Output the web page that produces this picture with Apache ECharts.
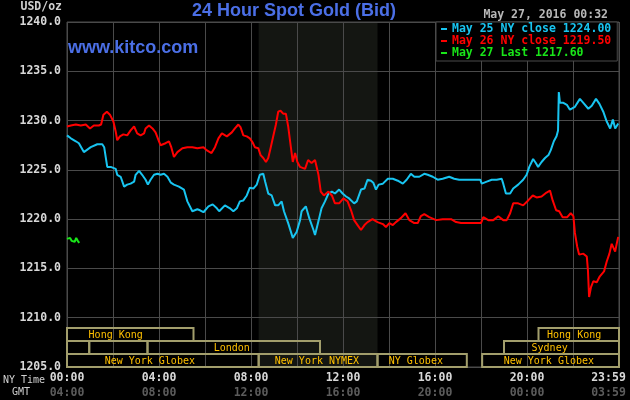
<!DOCTYPE html>
<html>
<head>
<meta charset="utf-8">
<script src="https://cdn.jsdelivr.net/npm/echarts@6/dist/echarts.min.js"></script>
<style>html,body{margin:0;padding:0;background:#000;}#c{width:630px;height:400px;}</style>
</head>
<body>
<div id="c"></div>
<script>
// ---- data (minutes after 00:00 NY time, USD/oz) ----
const may25 = [[0,1228.5],[10,1228.2],[23,1227.9],[31,1227.7],[44,1226.8],[49,1226.9],[62,1227.3],[79,1227.6],[92,1227.6],[97,1227.3],[101,1226.3],[105,1225.3],[114,1225.3],[127,1225.1],[131,1224.5],[140,1224.3],[149,1223.3],[157,1223.5],[166,1223.6],[175,1223.8],[179,1224.5],[188,1224.9],[196,1224.5],[205,1224.0],[211,1223.5],[218,1224.0],[227,1224.5],[236,1224.6],[244,1224.5],[253,1224.6],[262,1224.3],[271,1223.7],[279,1223.5],[292,1223.3],[305,1223.0],[314,1221.8],[327,1220.8],[340,1221.0],[347,1220.9],[356,1220.7],[369,1221.3],[380,1221.5],[391,1221.1],[397,1220.8],[412,1221.4],[425,1221.1],[434,1220.8],[443,1221.1],[451,1221.8],[460,1221.9],[469,1222.4],[477,1223.2],[486,1223.1],[495,1223.5],[503,1224.5],[512,1224.6],[517,1223.8],[525,1222.6],[534,1222.4],[543,1221.4],[551,1221.4],[560,1221.8],[566,1220.8],[577,1219.6],[589,1218.1],[599,1218.7],[608,1219.9],[612,1220.8],[623,1221.3],[632,1220.1],[643,1218.9],[647,1218.4],[656,1219.8],[664,1221.1],[673,1221.8],[682,1222.6],[691,1222.8],[699,1222.6],[710,1223.0],[719,1222.6],[728,1222.3],[736,1222.1],[749,1221.6],[756,1221.8],[767,1223.0],[776,1223.1],[784,1224.0],[793,1223.9],[799,1223.7],[806,1223.0],[813,1223.5],[824,1223.6],[837,1224.1],[850,1224.1],[863,1223.9],[876,1223.6],[886,1224.0],[897,1224.6],[906,1224.3],[919,1224.3],[932,1224.6],[941,1224.5],[954,1224.3],[967,1224.0],[980,1224.1],[997,1224.3],[1010,1224.1],[1023,1224.0],[1049,1224.0],[1078,1224.0],[1082,1223.6],[1095,1223.8],[1108,1224.0],[1121,1224.0],[1134,1224.1],[1138,1223.6],[1145,1222.6],[1156,1222.6],[1164,1223.1],[1177,1223.5],[1190,1224.0],[1199,1224.5],[1206,1225.3],[1216,1226.1],[1223,1225.7],[1229,1225.3],[1238,1225.8],[1247,1226.2],[1256,1226.5],[1262,1227.0],[1270,1227.9],[1277,1228.4],[1281,1229.0],[1283,1232.9],[1286,1231.8],[1295,1231.8],[1304,1231.6],[1312,1231.1],[1325,1231.4],[1338,1232.2],[1347,1231.8],[1360,1231.2],[1369,1231.5],[1380,1232.2],[1389,1231.7],[1399,1230.9],[1408,1229.9],[1417,1229.2],[1424,1230.1],[1430,1229.2],[1438,1229.7]];

const may26 = [[0,1229.4],[10,1229.5],[23,1229.6],[36,1229.5],[49,1229.6],[60,1229.2],[70,1229.5],[83,1229.5],[89,1229.6],[95,1230.6],[104,1230.9],[112,1230.6],[121,1229.9],[127,1228.9],[131,1228.0],[138,1228.4],[147,1228.6],[157,1228.5],[166,1229.0],[175,1229.4],[183,1228.7],[192,1228.5],[201,1228.7],[205,1229.2],[214,1229.5],[223,1229.2],[231,1228.8],[240,1227.9],[244,1227.5],[257,1227.7],[266,1227.9],[272,1227.3],[279,1226.3],[288,1226.8],[301,1227.2],[314,1227.3],[327,1227.3],[340,1227.2],[356,1227.3],[364,1227.0],[377,1226.7],[386,1227.3],[395,1228.2],[404,1228.7],[417,1228.4],[430,1228.8],[438,1229.2],[447,1229.6],[453,1229.3],[460,1228.5],[469,1228.4],[477,1228.2],[484,1227.8],[490,1227.3],[499,1227.2],[505,1226.5],[512,1226.2],[519,1225.8],[525,1226.2],[531,1227.2],[538,1228.4],[545,1229.6],[551,1230.9],[557,1231.0],[564,1230.7],[571,1230.7],[577,1229.4],[584,1227.3],[589,1225.8],[595,1226.7],[601,1225.8],[608,1225.3],[621,1225.1],[629,1226.0],[638,1225.7],[647,1226.0],[656,1224.5],[662,1222.8],[670,1222.4],[682,1222.8],[691,1222.4],[699,1221.6],[710,1221.6],[721,1222.1],[732,1221.8],[741,1220.9],[749,1219.9],[758,1219.4],[767,1218.9],[776,1219.4],[784,1219.7],[797,1220.0],[810,1219.7],[824,1219.5],[832,1219.2],[841,1219.6],[850,1219.4],[858,1219.7],[871,1220.1],[883,1220.6],[893,1219.9],[906,1219.6],[915,1219.6],[923,1220.3],[932,1220.5],[945,1220.2],[963,1219.9],[980,1220.0],[1002,1220.0],[1015,1219.7],[1028,1219.6],[1080,1219.6],[1086,1220.2],[1099,1219.9],[1112,1219.9],[1125,1220.3],[1138,1219.9],[1147,1219.9],[1156,1220.6],[1164,1221.6],[1177,1221.6],[1190,1221.4],[1203,1221.9],[1215,1222.4],[1225,1222.2],[1238,1222.3],[1251,1222.7],[1260,1222.9],[1267,1221.9],[1276,1220.9],[1284,1220.8],[1293,1220.2],[1305,1220.2],[1314,1220.6],[1321,1220.3],[1325,1218.6],[1331,1217.2],[1336,1216.4],[1347,1216.5],[1356,1216.2],[1359,1214.8],[1362,1212.1],[1367,1213.1],[1373,1213.7],[1382,1213.6],[1390,1214.2],[1401,1214.7],[1408,1215.7],[1415,1216.5],[1421,1217.5],[1425,1217.4],[1430,1216.7],[1434,1217.5],[1438,1218.2]];

const may27 = [[0,1218.0],[4,1217.8],[8,1218.1],[12,1217.8],[16,1218.0],[20,1217.7],[24,1218.1],[28,1217.8],[32,1217.6]];

const legendNames = ['May 25 NY close', 'May 26 NY close', 'May 27 Last'];
const legendValues = [1224.00, 1219.50, 1217.60];
const seriesColors = ['#18c4f0', '#ff0000', '#19e619'];

const nyTickLabels = ['00:00','04:00','08:00','12:00','16:00','20:00','23:59'];
const gmtTickLabels = ['04:00','08:00','12:00','16:00','20:00','00:00','03:59'];

const yMin = 1205, yMax = 1240, yStep = 5;

// market sessions (minutes), rows from top
const sessionNames = ['Hong Kong','Hong Kong','','','London','Sydney','New York Globex','New York NYMEX','NY Globex','New York Globex'];
const sessionRow   = [0,0,1,1,1,1,2,2,2,2];
const sessionStart = [0,1230,0,58,210,1140,0,500,810,1083];
const sessionEnd   = [330,1440,58,210,660,1440,500,810,1043,1440];
const sessionLabelAt = [127,1323,29,134,430,1259,216,652,910,1257];

const nymexHours = [500, 810];

// ---- chart ----
const mono = "'DejaVu Sans Mono', monospace";
const chart = echarts.init(document.getElementById('c'));
const names = legendNames.map((n, i) => n + ' ' + legendValues[i].toFixed(2));

const sessionData = sessionNames.map((n, i) => [sessionStart[i], sessionEnd[i], sessionRow[i], sessionLabelAt[i]]);

function xLabel(v) {
  if (v === 1440) return '{nyE|' + nyTickLabels[6] + '}\n{gmtE|' + gmtTickLabels[6] + '}';
  if (v % 240 === 0) {
    const i = v / 240;
    return '{ny|' + nyTickLabels[i] + '}\n{gmt|' + gmtTickLabels[i] + '}';
  }
  return '';
}

const option = {
  backgroundColor: '#000',
  animation: false,
  grid: { left: 67, right: 11, top: 22, bottom: 33, show: true, borderColor: '#4a4a4a', borderWidth: 1, outerBoundsMode: 'none' },
  xAxis: {
    type: 'value', min: 0, max: 1440, interval: 120,
    axisLine: { show: false }, axisTick: { show: false },
    splitLine: { show: true, lineStyle: { color: '#4a4a4a', width: 1 } },
    axisLabel: {
      showMinLabel: true, showMaxLabel: true, margin: 4,
      formatter: xLabel,
      rich: {
        ny: { color: '#d8d8d8', fontFamily: mono, fontWeight: 'bold', fontSize: 11.5, lineHeight: 15 },
        gmt: { color: '#5c5c5c', fontFamily: mono, fontWeight: 'bold', fontSize: 11.5, lineHeight: 15 },
        nyE: { color: '#d8d8d8', fontFamily: mono, fontWeight: 'bold', fontSize: 11.5, lineHeight: 15, padding: [0, 21, 0, 0] },
        gmtE: { color: '#5c5c5c', fontFamily: mono, fontWeight: 'bold', fontSize: 11.5, lineHeight: 15, padding: [0, 21, 0, 0] }
      }
    }
  },
  yAxis: {
    type: 'value', min: yMin, max: yMax, interval: yStep,
    axisLine: { show: false }, axisTick: { show: false },
    splitLine: { show: true, lineStyle: { color: '#4a4a4a', width: 1 } },
    axisLabel: { color: '#d8d8d8', fontFamily: mono, fontWeight: 'bold', fontSize: 11.5, margin: 6, formatter: v => v.toFixed(1) }
  },
  legend: {
    orient: 'vertical', left: 436, top: 22,
    backgroundColor: '#000', borderColor: '#4a4a4a', borderWidth: 1,
    padding: [1, 6, 2, 5], itemGap: 0, itemWidth: 6, itemHeight: 2, icon: 'rect',
    selectedMode: false,
    textStyle: { fontFamily: mono, fontWeight: 'bold', fontSize: 11.5, lineHeight: 12 },
    data: names.map((n, i) => ({ name: n, textStyle: { color: seriesColors[i] } }))
  },
  graphic: [
    { type: 'text', z: 10, style: { text: '24 Hour Spot Gold (Bid)', x: 294, y: 11, textAlign: 'center', textVerticalAlign: 'middle', font: 'bold 18px "Liberation Sans", Arial, sans-serif', fill: '#4b6fe6' } },
    { type: 'text', z: 10, style: { text: 'www.kitco.com', x: 68, y: 48.5, textAlign: 'left', textVerticalAlign: 'middle', font: 'bold 18px "Liberation Sans", Arial, sans-serif', fill: '#4b6fe6' } },
    { type: 'text', z: 10, style: { text: 'May 27, 2016 00:32', x: 608, y: 15, textAlign: 'right', textVerticalAlign: 'middle', font: 'bold 11.5px ' + mono, fill: '#b8b8b8' } },
    { type: 'text', z: 10, style: { text: 'USD/oz', x: 62, y: 7.5, textAlign: 'right', textVerticalAlign: 'middle', font: 'bold 11.5px ' + mono, fill: '#d0d0d0' } },
    { type: 'text', z: 10, style: { text: 'NY Time', x: 3, y: 380, textAlign: 'left', textVerticalAlign: 'middle', font: '10px ' + mono, fill: '#d0d0d0' } },
    { type: 'text', z: 10, style: { text: 'GMT', x: 12, y: 392, textAlign: 'left', textVerticalAlign: 'middle', font: '10px ' + mono, fill: '#d0d0d0' } }
  ],
  series: [
    {
      type: 'custom', name: 'nymex', z: -1, silent: true,
      data: [nymexHours],
      renderItem: function (params, api) {
        const a = api.coord([api.value(0), yMax]);
        const b = api.coord([api.value(1), yMin]);
        return { type: 'rect', shape: { x: a[0], y: a[1], width: b[0] - a[0], height: b[1] - a[1] }, style: { fill: '#141612' } };
      }
    },
    {
      type: 'custom', name: 'sessions', silent: true,
      data: sessionData,
      renderItem: function (params, api) {
        const x0 = api.coord([api.value(0), yMin])[0];
        const x1 = api.coord([api.value(1), yMin])[0];
        const bottom = api.coord([0, yMin])[1];
        const rowH = 13;
        const top = bottom - (3 - api.value(2)) * rowH;
        const lx = api.coord([api.value(3), yMin])[0];
        return {
          type: 'group',
          children: [
            { type: 'rect', shape: { x: x0, y: top, width: x1 - x0, height: rowH }, style: { fill: 'none', stroke: '#a29e6c', lineWidth: 2 } },
            { type: 'text', style: { text: sessionNames[params.dataIndex], x: lx, y: top + rowH / 2 + 0.5, textAlign: 'center', textVerticalAlign: 'middle', font: '10px ' + mono, fill: '#ffc000' } }
          ]
        };
      }
    },
    { type: 'line', name: names[0], data: may25, symbol: 'none', lineStyle: { color: seriesColors[0], width: 2 }, itemStyle: { color: seriesColors[0] } },
    { type: 'line', name: names[1], data: may26, symbol: 'none', lineStyle: { color: seriesColors[1], width: 2 }, itemStyle: { color: seriesColors[1] } },
    { type: 'line', name: names[2], data: may27, symbol: 'none', lineStyle: { color: seriesColors[2], width: 2 }, itemStyle: { color: seriesColors[2] } }
  ]
};
chart.setOption(option);
</script>
</body>
</html>
